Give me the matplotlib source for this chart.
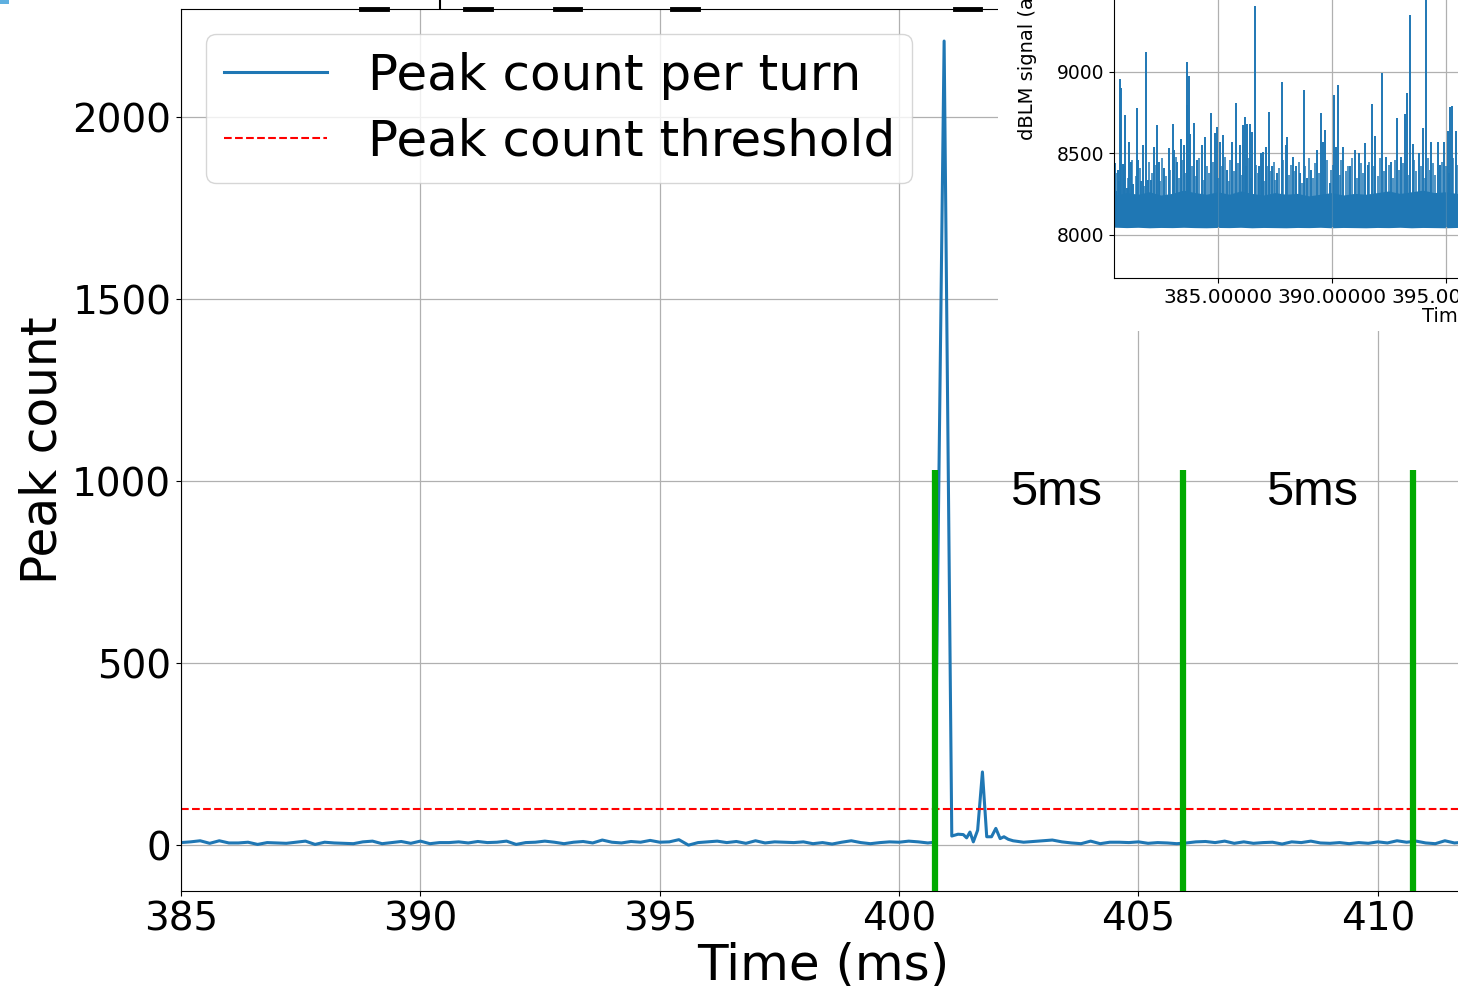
import numpy as np
import matplotlib.pyplot as plt
from matplotlib.patches import Rectangle
from matplotlib.lines import Line2D
from matplotlib.ticker import FormatStrFormatter, MultipleLocator

# Peak count per turn (main plot)
t_pre = [385.0, 385.2, 385.4, 385.6, 385.8, 386.0, 386.2, 386.4, 386.6, 386.8,
         387.0, 387.2, 387.4, 387.6, 387.8, 388.0, 388.2, 388.4, 388.6, 388.8,
         389.0, 389.2, 389.4, 389.6, 389.8, 390.0, 390.2, 390.4, 390.6, 390.8,
         391.0, 391.2, 391.4, 391.6, 391.8, 392.0, 392.2, 392.4, 392.6, 392.8,
         393.0, 393.2, 393.4, 393.6, 393.8, 394.0, 394.2, 394.4, 394.6, 394.8,
         395.0, 395.2, 395.4, 395.6, 395.8, 396.0, 396.2, 396.4, 396.6, 396.8,
         397.0, 397.2, 397.4, 397.6, 397.8, 398.0, 398.2, 398.4, 398.6, 398.8,
         399.0, 399.2, 399.4, 399.6, 399.8, 400.0, 400.2, 400.4, 400.6]
c_pre = [7, 9, 12, 5, 12, 6, 6, 8, 2, 7,
         6, 5, 8, 11, 2, 8, 6, 5, 4, 9,
         11, 4, 7, 10, 5, 11, 4, 7, 7, 9,
         6, 10, 7, 8, 11, 2, 7, 8, 11, 8,
         4, 8, 10, 6, 14, 8, 6, 10, 8, 13,
         8, 9, 15, 0, 7, 9, 11, 7, 10, 5,
         12, 6, 9, 8, 7, 9, 4, 7, 3, 8,
         12, 7, 4, 7, 9, 8, 11, 9, 6]
t_burst = [400.74, 400.94, 401.10, 401.23, 401.34, 401.41, 401.48, 401.55, 401.64,
           401.74, 401.83, 401.93, 402.02, 402.11, 402.19, 402.28, 402.38]
c_burst = [8, 2209, 25, 30, 29, 20, 36, 9, 41,
           201, 23, 23, 46, 18, 23, 16, 12]
t_post = [402.6, 402.8, 403.0, 403.2, 403.4, 403.6, 403.8, 404.0, 404.2, 404.4,
          404.6, 404.8, 405.0, 405.2, 405.4, 405.6, 405.8, 406.0, 406.2, 406.4,
          406.6, 406.8, 407.0, 407.2, 407.4, 407.6, 407.8, 408.0, 408.2, 408.4,
          408.6, 408.8, 409.0, 409.2, 409.4, 409.6, 409.8, 410.0, 410.2, 410.4,
          410.6, 410.8, 411.0, 411.2, 411.4, 411.6, 411.8]
c_post = [8, 10, 12, 14, 9, 6, 4, 11, 4, 8,
          8, 7, 9, 5, 7, 6, 4, 6, 9, 10,
          7, 11, 5, 9, 5, 7, 8, 3, 9, 7,
          11, 6, 5, 7, 4, 7, 5, 9, 6, 12,
          8, 11, 6, 4, 12, 6, 8]
threshold = 100
marker_times = [400.74, 405.94, 410.74]
window_labels = ["5ms", "5ms"]

# dBLM signal inset: dense band, ragged top and spikes
band_t = [380.4, 381.0, 381.5, 382.0, 382.5, 383.0, 383.5, 384.0, 384.5, 385.0,
          385.5, 386.0, 386.5, 387.0, 387.5, 388.0, 388.5, 389.0, 389.5, 390.0,
          390.5, 391.0, 391.5, 392.0, 392.5, 393.0, 393.5, 394.0, 394.5, 395.0,
          395.5, 396.1]
band_lo = [8048, 8045, 8047, 8044, 8046, 8045, 8047, 8045, 8044, 8046,
           8045, 8047, 8044, 8046, 8045, 8044, 8046, 8045, 8047, 8044,
           8046, 8045, 8044, 8046, 8045, 8047, 8044, 8046, 8045, 8044,
           8046, 8045]
band_hi = [8240, 8260, 8250, 8265, 8245, 8255, 8275, 8260, 8250, 8265,
           8250, 8270, 8255, 8245, 8260, 8250, 8255, 8240, 8250, 8260,
           8245, 8255, 8250, 8260, 8270, 8255, 8265, 8275, 8260, 8265,
           8255, 8260]
small_t = [380.52, 380.68, 380.88, 381.05, 381.25, 381.40, 381.58, 381.78, 381.98, 382.12,
           382.28, 382.48, 382.56, 382.72, 382.92, 383.15, 383.30, 383.45, 383.58, 383.70,
           383.88, 384.03, 384.18, 384.38, 384.52, 384.62, 384.78, 385.03, 385.18, 385.33,
           385.48, 385.55, 385.70, 385.88, 386.05, 386.25, 386.35, 386.46, 386.70, 386.75,
           386.92, 387.04, 387.18, 387.31, 387.45, 387.52, 387.70, 387.88, 388.12, 388.22,
           388.38, 388.55, 388.70, 388.85, 389.00, 389.18, 389.27, 389.45, 389.80, 389.98,
           390.04, 390.35, 390.42, 390.62, 390.72, 390.90, 391.10, 391.28, 391.38, 391.65,
           391.85, 392.05, 392.12, 392.30, 392.50, 392.70, 392.78, 392.95, 393.12, 393.38,
           393.62, 393.72, 393.92, 394.08, 394.22, 394.30, 394.46, 394.55, 394.85, 395.02,
           395.15, 395.32, 395.50]
small_v = [8380, 8330, 8420, 8350, 8460, 8360, 8410, 8300, 8450, 8380,
           8430, 8330, 8470, 8360, 8400, 8480, 8350, 8460, 8380, 8520,
           8420, 8360, 8470, 8340, 8420, 8380, 8450, 8350, 8420, 8480,
           8330, 8460, 8390, 8440, 8370, 8420, 8470, 8350, 8430, 8380,
           8470, 8330, 8420, 8390, 8450, 8340, 8410, 8460, 8370, 8430,
           8390, 8450, 8320, 8420, 8470, 8350, 8440, 8380, 8460, 8400,
           8430, 8370, 8460, 8390, 8420, 8470, 8350, 8440, 8380, 8450,
           8420, 8360, 8470, 8390, 8430, 8350, 8460, 8400, 8440, 8370,
           8460, 8390, 8420, 8350, 8470, 8400, 8440, 8370, 8450, 8420,
           8380, 8470, 8430]
spike_t = [380.48, 380.55, 380.64, 380.71, 380.75, 380.83, 380.92, 381.02, 381.10,
           381.19, 381.30, 381.46, 381.52, 381.62, 381.73, 381.85, 381.92, 382.05,
           382.20, 382.32, 382.42, 382.62, 382.85, 383.02, 383.10, 383.20, 383.39,
           383.50, 383.63, 383.66, 383.75, 383.80, 383.96, 384.10, 384.30, 384.45,
           384.69, 384.88, 384.98, 385.10, 385.25, 385.40, 385.62, 385.80, 385.98,
           386.12, 386.18, 386.30, 386.40, 386.52, 386.62, 386.80, 386.88, 386.97,
           387.10, 387.25, 387.37, 387.60, 387.81, 387.98, 388.05, 388.30, 388.45,
           388.62, 388.79, 388.90, 389.10, 389.35, 389.55, 389.63, 389.71, 389.92,
           390.10, 390.18, 390.28, 390.50, 390.80, 391.02, 391.20, 391.47, 391.58,
           391.79, 391.90, 392.20, 392.40, 392.62, 392.86, 393.05, 393.20, 393.30,
           393.43, 393.55, 393.85, 394.02, 394.14, 394.38, 394.66, 394.76, 394.93,
           395.10, 395.20, 395.26, 395.44]
spike_v = [8443, 8270, 8399, 8957, 8900, 8437, 8736, 8290, 8572,
           8450, 8310, 8781, 8460, 8330, 8552, 9124, 8340, 8340,
           8541, 8675, 8450, 8410, 8532, 8678, 8520, 8450, 8587,
           8550, 8800, 9063, 8975, 8620, 8685, 8460, 8550, 8600,
           8746, 8624, 8661, 8570, 8613, 8400, 8570, 8808, 8550,
           8675, 8722, 8680, 8680, 8630, 9407, 8420, 8500, 8510,
           8540, 8756, 8420, 8380, 8940, 8550, 8603, 8480, 8420,
           8380, 8889, 8350, 8400, 8521, 8746, 8570, 8644, 8320,
           8859, 8540, 8920, 8540, 8420, 8520, 8500, 8566, 8430,
           8801, 8610, 8992, 8480, 8450, 8720, 8480, 8740, 8869,
           9350, 8560, 8500, 8654, 9700, 8570, 8572, 8430, 8570,
           8640, 8787, 8790, 8640]

fig = plt.figure(figsize=(14.58, 9.86), dpi=100)
W, H = 1458.0, 986.0

# main axes (right edge runs just past the figure)
ax = fig.add_axes([181 / W, (H - 891) / H, 1284 / W, 882 / H])
ax.set_zorder(0)
t_all = t_pre + t_burst + t_post
c_all = c_pre + c_burst + c_post
ax.plot(t_all, c_all, color="#1f77b4", lw=2.2, label="Peak count per turn")
ax.axhline(threshold, color="red", ls="--", lw=1.5, label="Peak count threshold")
for tm in marker_times:
    ax.plot([tm, tm], [-126, 1030], color="#00aa00", lw=4.5, solid_capstyle="butt", zorder=3)
ax.text(403.27, 970, window_labels[0], fontsize=35, family="Liberation Sans", ha="center", va="center")
ax.text(408.62, 970, window_labels[1], fontsize=35, family="Liberation Sans", ha="center", va="center")

ax.set_xlim(385, 411.82)
ax.set_ylim(-126, 2297)
ax.xaxis.set_major_locator(MultipleLocator(5))
ax.yaxis.set_major_locator(MultipleLocator(500))
ax.grid(True, color="#b0b0b0", lw=0.9)
ax.tick_params(labelsize=28)
ax.set_xlabel("Time (ms)", fontsize=36, labelpad=2)
ax.set_ylabel("Peak count", fontsize=35)
ax.legend(loc="upper left", fontsize=36, handlelength=2.06, handletextpad=0.82,
          labelspacing=0.35, borderpad=0.35)

# white box where the inset was pasted
fig.add_artist(Rectangle((998 / W, (H - 331) / H), 0.4, 0.4, transform=fig.transFigure,
                         facecolor="white", edgecolor="none", zorder=1))

# inset axes
ix0, ix1 = 1114.3, 1470.0
iy_bot, iy_top = 278.0, -20.0
ax2 = fig.add_axes([ix0 / W, (H - iy_bot) / H, (ix1 - ix0) / W, (iy_bot - iy_top) / H])
ax2.set_zorder(2)
ax2.fill_between(band_t, band_lo, band_hi, color="#1f77b4", lw=0)
ax2.vlines(small_t, 8050, small_v, color="#1f77b4", lw=1.1)
ax2.vlines(spike_t, 8050, spike_v, color="#1f77b4", lw=1.4)
ax2.set_xlim(380.46, 396.07)
ax2.set_ylim(7736, 9564)
ax2.xaxis.set_major_locator(MultipleLocator(5))
ax2.yaxis.set_major_locator(MultipleLocator(500))
ax2.xaxis.set_major_formatter(FormatStrFormatter("%.5f"))
ax2.grid(True, color="#b0b0b0", lw=0.9)
ax2.tick_params(axis="y", labelsize=13.5)
ax2.tick_params(axis="x", labelsize=14.5)
ax2.set_ylabel("dBLM signal (a.u.)", fontsize=14)
ax2.yaxis.set_label_coords((1037 - ix0) / (ix1 - ix0), (iy_bot - 52.5) / (iy_bot - iy_top))
ax2.text((1421.7 - ix0) / (ix1 - ix0), -(307 - iy_bot) / (iy_bot - iy_top), "Time (ms)",
         transform=ax2.transAxes, fontsize=14, ha="left", va="top", clip_on=False)

# leftovers of the pasted picture above the chart
fig.add_artist(Rectangle((0, (H - 4) / H), 9 / W, 4 / H, transform=fig.transFigure,
                         facecolor="#5fb0e0", edgecolor="none", zorder=3))
for xa, xb in [(361, 387), (465, 491), (555, 580), (672, 698), (955, 980)]:
    fig.add_artist(Line2D([xa / W, xb / W], [(H - 9) / H] * 2, transform=fig.transFigure,
                          color="black", lw=3.5, zorder=3))
fig.add_artist(Line2D([440 / W, 440 / W], [1.0, (H - 8) / H], transform=fig.transFigure,
                      color="black", lw=1.5, zorder=3))

fig.savefig("out.png", dpi=100)
